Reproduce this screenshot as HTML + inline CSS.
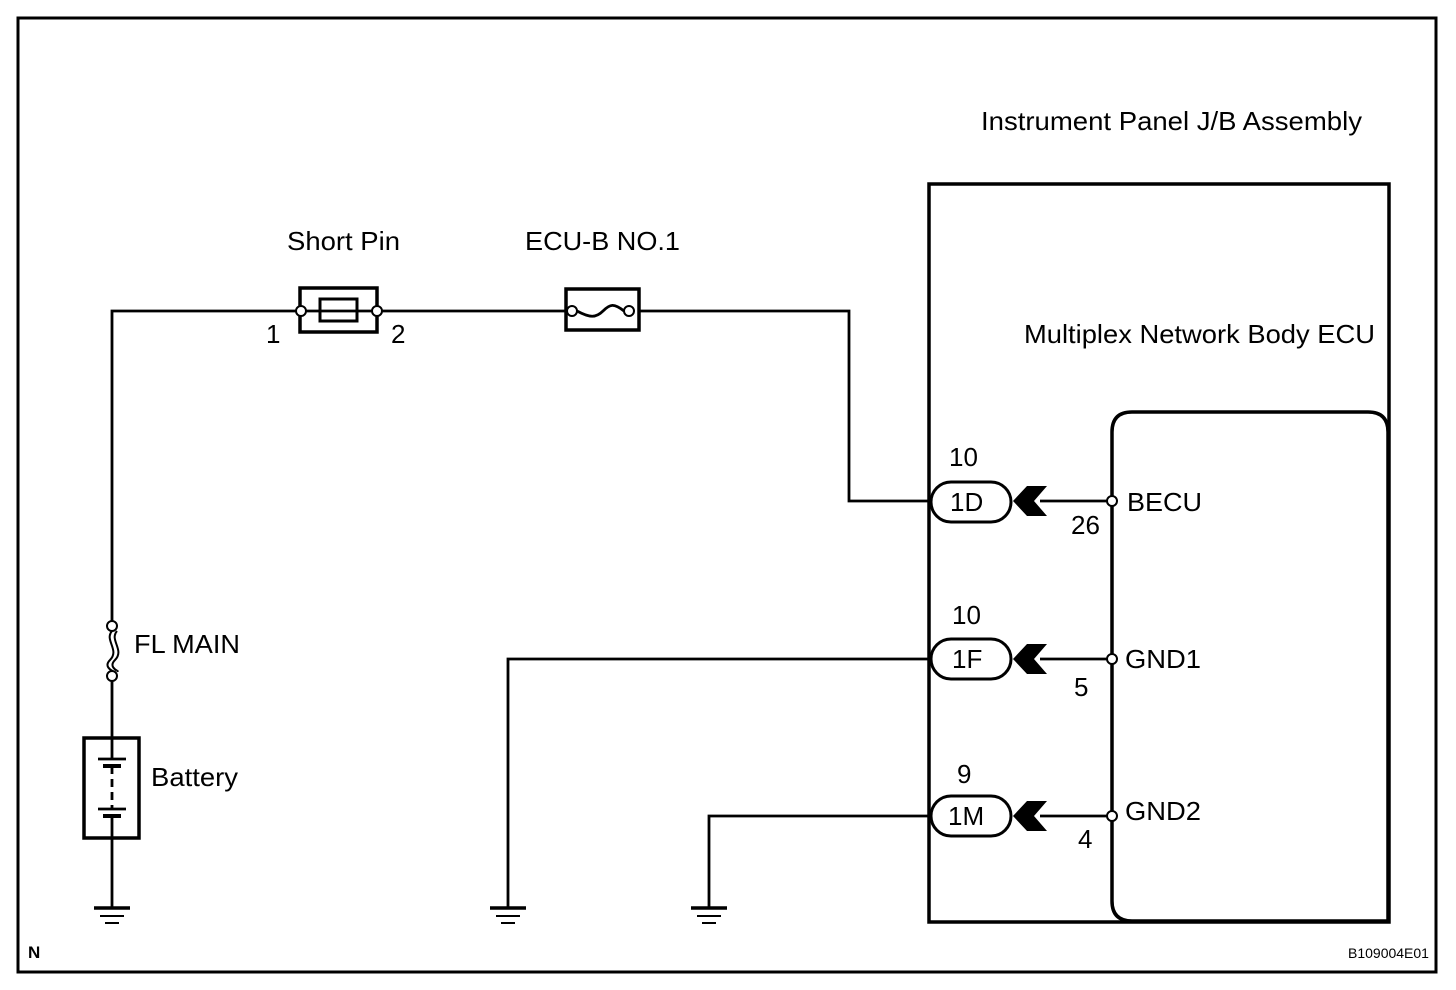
<!DOCTYPE html>
<html><head><meta charset="utf-8"><style>
html,body{margin:0;padding:0;background:#fff}
svg{display:block}
text{font-family:"Liberation Sans",Arial,sans-serif;fill:#000}
</style></head><body>
<svg width="1456" height="990" viewBox="0 0 1456 990" xmlns="http://www.w3.org/2000/svg">
<rect x="18" y="18" width="1418" height="954" fill="none" stroke="#000" stroke-width="3"/>
<g stroke="#000" stroke-width="2.8" fill="none">
<polyline points="112,621 112,311 296,311"/>
<line x1="112" y1="681" x2="112" y2="738"/>
<line x1="112" y1="838" x2="112" y2="908"/>
<rect x="300" y="288" width="77" height="44" stroke-width="3.5"/>
<rect x="320" y="299" width="37" height="22" stroke-width="3"/>
<line x1="306" y1="311" x2="372" y2="311"/>
<line x1="382" y1="311" x2="565" y2="311"/>
<rect x="566" y="289" width="73" height="41" stroke-width="3.5"/>
<path d="M577,311 C590,318 596,318 603,311 C610,304 614,303 624,311"/>
<polyline points="639,311 849,311 849,501 930,501"/>
<path d="M112,631 C104,640 120,650 110,660 C102,668 116,672 112,671" stroke-width="2"/>
<path d="M117,631 C109,640 125,650 115,660 C107,668 121,672 117,671" stroke-width="2"/>
<rect x="84" y="738" width="55" height="100" stroke-width="3.5"/>
<line x1="112" y1="738" x2="112" y2="758"/>
<line x1="112" y1="818" x2="112" y2="838"/>
<line x1="98" y1="759" x2="126" y2="759"/>
<line x1="103" y1="766" x2="121" y2="766" stroke-width="4"/>
<line x1="112" y1="766" x2="112" y2="808" stroke-dasharray="8,5"/>
<line x1="98" y1="809" x2="126" y2="809"/>
<line x1="103" y1="816" x2="121" y2="816" stroke-width="4"/>
<line x1="94" y1="908" x2="130" y2="908" stroke-width="3.5"/>
<line x1="100" y1="916" x2="124" y2="916" stroke-width="2"/>
<line x1="105" y1="923" x2="119" y2="923" stroke-width="2"/>
<polyline points="930,659 508,659 508,908"/>
<line x1="490" y1="908" x2="526" y2="908" stroke-width="3.5"/>
<line x1="496" y1="916" x2="520" y2="916" stroke-width="2"/>
<line x1="501" y1="923" x2="515" y2="923" stroke-width="2"/>
<polyline points="930,816 709,816 709,908"/>
<line x1="691" y1="908" x2="727" y2="908" stroke-width="3.5"/>
<line x1="697" y1="916" x2="721" y2="916" stroke-width="2"/>
<line x1="702" y1="923" x2="716" y2="923" stroke-width="2"/>
<rect x="929" y="184" width="460" height="738" stroke-width="3.5"/>
<path d="M1132,412 L1368,412 Q1388,412 1388,432 L1388,921 L1132,921 Q1112,921 1112,901 L1112,432 Q1112,412 1132,412 Z" stroke-width="3.5"/>
<rect x="931" y="482" width="80" height="40" rx="20" stroke-width="3"/>
<rect x="931" y="639" width="80" height="40" rx="20" stroke-width="3"/>
<rect x="931" y="796" width="80" height="40" rx="20" stroke-width="3"/>
<line x1="1040" y1="501" x2="1107" y2="501"/>
<line x1="1040" y1="659" x2="1107" y2="659"/>
<line x1="1040" y1="816" x2="1107" y2="816"/>
</g>
<g fill="#000">
<polygon points="1013,501 1027,486 1047,486 1034,501 1047,516 1027,516"/>
<polygon points="1013,659 1027,644 1047,644 1034,659 1047,674 1027,674"/>
<polygon points="1013,816 1027,801 1047,801 1034,816 1047,831 1027,831"/>
</g>
<g fill="#fff" stroke="#000" stroke-width="2">
<circle cx="301" cy="311" r="5"/><circle cx="377" cy="311" r="5"/>
<circle cx="572" cy="311" r="5"/><circle cx="629" cy="311" r="5"/>
<circle cx="112" cy="626" r="5"/><circle cx="112" cy="676" r="5"/>
<circle cx="1112" cy="501" r="5"/><circle cx="1112" cy="659" r="5"/><circle cx="1112" cy="816" r="5"/>
</g>
<g font-size="26" lengthAdjust="spacingAndGlyphs">
<text x="981" y="130" textLength="381" lengthAdjust="spacingAndGlyphs">Instrument Panel J/B Assembly</text>
<text x="1024" y="343" textLength="351" lengthAdjust="spacingAndGlyphs">Multiplex Network Body ECU</text>
<text x="287" y="250" textLength="113" lengthAdjust="spacingAndGlyphs">Short Pin</text>
<text x="525" y="250" textLength="155" lengthAdjust="spacingAndGlyphs">ECU-B NO.1</text>
<text x="266" y="343">1</text>
<text x="391" y="343">2</text>
<text x="134" y="653" textLength="106" lengthAdjust="spacingAndGlyphs">FL MAIN</text>
<text x="151" y="786" textLength="87" lengthAdjust="spacingAndGlyphs">Battery</text>
<text x="949" y="466">10</text>
<text x="950" y="511">1D</text>
<text x="1071" y="534">26</text>
<text x="1127" y="511" textLength="75" lengthAdjust="spacingAndGlyphs">BECU</text>
<text x="952" y="624">10</text>
<text x="952" y="668">1F</text>
<text x="1074" y="696">5</text>
<text x="1125" y="668" textLength="76" lengthAdjust="spacingAndGlyphs">GND1</text>
<text x="957" y="783">9</text>
<text x="948" y="825">1M</text>
<text x="1078" y="848">4</text>
<text x="1125" y="820" textLength="76" lengthAdjust="spacingAndGlyphs">GND2</text>
</g>
<text x="28" y="958" font-size="17" font-weight="bold">N</text>
<text x="1348" y="958" font-size="14">B109004E01</text>
</svg>
</body></html>
